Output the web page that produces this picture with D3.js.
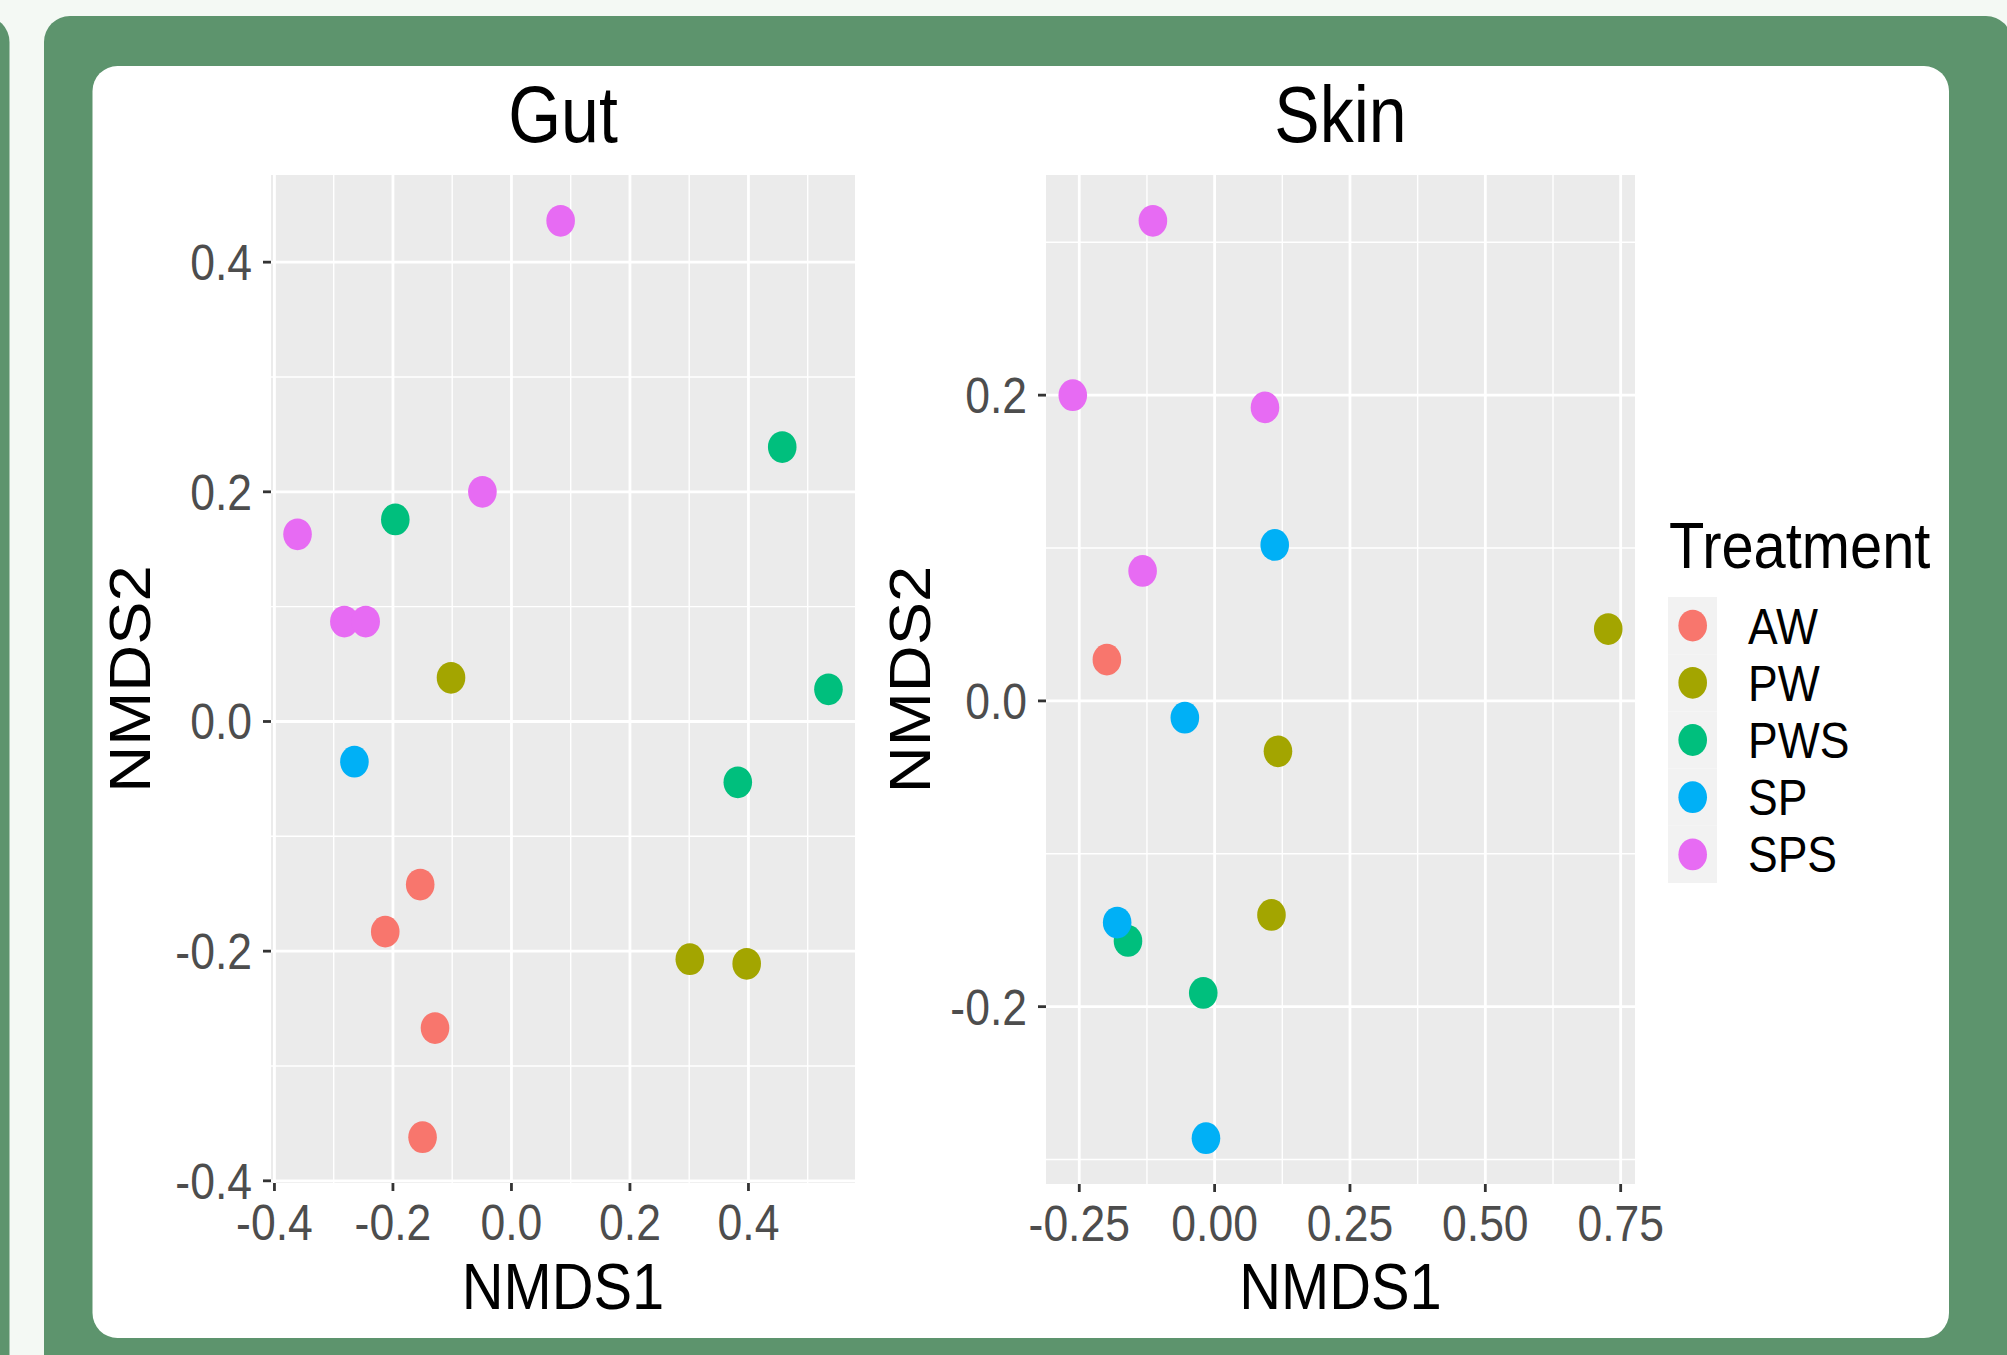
<!DOCTYPE html>
<html>
<head>
<meta charset="utf-8">
<script src="https://cdn.jsdelivr.net/npm/d3@7"></script>
<style>
  html, body { margin: 0; padding: 0; background: #f4f9f4; }
  svg { display: block; }
</style>
</head>
<body>
<script>
// ---------------- DATA ----------------
const treatments = ["AW", "PW", "PWS", "SP", "SPS"];
const treatmentColors = ["#F8766D", "#A3A500", "#00BF7D", "#00B0F6", "#E76BF3"];

// Gut NMDS scores
const gutTreatment = ["AW","AW","AW","AW","PW","PW","PW","PWS","PWS","PWS","PWS","SP","SPS","SPS","SPS","SPS","SPS"];
const gutNMDS1 = [-0.154, -0.213, -0.129, -0.150, -0.102, 0.301, 0.397, 0.457, -0.196, 0.535, 0.382, -0.265, 0.083, -0.049, -0.361, -0.282, -0.246];
const gutNMDS2 = [-0.142, -0.183, -0.267, -0.362, 0.038, -0.207, -0.211, 0.239, 0.176, 0.028, -0.053, -0.035, 0.436, 0.200, 0.163, 0.087, 0.087];

// Skin NMDS scores
const skinTreatment = ["AW","PW","PW","PW","PWS","PWS","SP","SP","SP","SP","SPS","SPS","SPS","SPS"];
const skinNMDS1 = [-0.199, 0.727, 0.117, 0.105, -0.160, -0.021, 0.111, -0.055, -0.180, -0.016, -0.114, -0.262, 0.093, -0.133];
const skinNMDS2 = [0.027, 0.047, -0.033, -0.140, -0.157, -0.191, 0.102, -0.011, -0.145, -0.286, 0.314, 0.200, 0.192, 0.085];

// Axis ticks
const gutXTicks = [-0.4, -0.2, 0.0, 0.2, 0.4];
const gutXTickLabels = ["-0.4", "-0.2", "0.0", "0.2", "0.4"];
const gutXMinor = [-0.3, -0.1, 0.1, 0.3, 0.5];
const gutYTicks = [-0.4, -0.2, 0.0, 0.2, 0.4];
const gutYTickLabels = ["-0.4", "-0.2", "0.0", "0.2", "0.4"];
const gutYMinor = [-0.3, -0.1, 0.1, 0.3];

const skinXTicks = [-0.25, 0.0, 0.25, 0.5, 0.75];
const skinXTickLabels = ["-0.25", "0.00", "0.25", "0.50", "0.75"];
const skinXMinor = [-0.125, 0.125, 0.375, 0.625];
const skinYTicks = [-0.2, 0.0, 0.2];
const skinYTickLabels = ["-0.2", "0.0", "0.2"];
const skinYMinor = [-0.3, -0.1, 0.1, 0.3];

const panelTitles = ["Gut", "Skin"];
const xAxisTitle = "NMDS1";
const yAxisTitle = "NMDS2";
const legendTitle = "Treatment";

// ---------------- LAYOUT ----------------
const W = 2007, H = 1355;
const FONT = "'Liberation Sans', Arial, Helvetica, sans-serif";
const SX = 0.89; // horizontal text compression seen in the reference

const svg = d3.select("body").append("svg")
  .attr("width", W).attr("height", H)
  .attr("viewBox", `0 0 ${W} ${H}`);

const green = "#5d946d";
svg.append("rect").attr("x", 0).attr("y", 0).attr("width", W).attr("height", H).attr("fill", "#f4f9f4");
svg.append("rect").attr("x", -200).attr("y", 16).attr("width", 209.5).attr("height", 2000).attr("rx", 26).attr("fill", green);
svg.append("rect").attr("x", 44).attr("y", 16).attr("width", 1968).attr("height", 2000).attr("rx", 26).attr("fill", green);
svg.append("rect").attr("x", 92.5).attr("y", 66).attr("width", 1856.5).attr("height", 1272).attr("rx", 25).attr("fill", "#ffffff");

const color = d3.scaleOrdinal().domain(treatments).range(treatmentColors);

function expandDomain(vals) {
  const [lo, hi] = d3.extent(vals);
  const pad = (hi - lo) * 0.05;
  return [lo - pad, hi + pad];
}

function textAt(g, x, y, str, size, fill, anchor, sx, rotate) {
  const t = g.append("text")
    .attr("transform", rotate
      ? `translate(${x},${y}) rotate(-90) scale(1,${sx})`
      : `translate(${x},${y}) scale(${sx},1)`)
    .attr("font-family", FONT)
    .attr("font-size", size)
    .attr("fill", fill)
    .attr("text-anchor", anchor)
    .text(str);
  return t;
}

const panels = [
  { title: panelTitles[0], x1: gutNMDS1, y1: gutNMDS2, trt: gutTreatment,
    left: 271, right: 855, top: 175, bottom: 1183,
    xTicks: gutXTicks, xLabels: gutXTickLabels, xMinor: gutXMinor,
    yTicks: gutYTicks, yLabels: gutYTickLabels, yMinor: gutYMinor,
    yTitleX: 150 },
  { title: panelTitles[1], x1: skinNMDS1, y1: skinNMDS2, trt: skinTreatment,
    left: 1046, right: 1635, top: 175, bottom: 1184,
    xTicks: skinXTicks, xLabels: skinXTickLabels, xMinor: skinXMinor,
    yTicks: skinYTicks, yLabels: skinYTickLabels, yMinor: skinYMinor,
    yTitleX: 930 }
];

panels.forEach(p => {
  const g = svg.append("g");
  const x = d3.scaleLinear().domain(expandDomain(p.x1)).range([p.left, p.right]);
  const y = d3.scaleLinear().domain(expandDomain(p.y1)).range([p.bottom, p.top]);

  // panel background
  g.append("rect").attr("x", p.left).attr("y", p.top)
    .attr("width", p.right - p.left).attr("height", p.bottom - p.top)
    .attr("fill", "#ebebeb");

  // minor grid
  g.selectAll(null).data(p.xMinor).enter().append("line")
    .attr("x1", d => x(d)).attr("x2", d => x(d)).attr("y1", p.top).attr("y2", p.bottom)
    .attr("stroke", "#ffffff").attr("stroke-width", 1.4);
  g.selectAll(null).data(p.yMinor).enter().append("line")
    .attr("y1", d => y(d)).attr("y2", d => y(d)).attr("x1", p.left).attr("x2", p.right)
    .attr("stroke", "#ffffff").attr("stroke-width", 1.4);
  // major grid
  g.selectAll(null).data(p.xTicks).enter().append("line")
    .attr("x1", d => x(d)).attr("x2", d => x(d)).attr("y1", p.top).attr("y2", p.bottom)
    .attr("stroke", "#ffffff").attr("stroke-width", 2.8);
  g.selectAll(null).data(p.yTicks).enter().append("line")
    .attr("y1", d => y(d)).attr("y2", d => y(d)).attr("x1", p.left).attr("x2", p.right)
    .attr("stroke", "#ffffff").attr("stroke-width", 2.8);

  // points
  const pts = p.x1.map((v, i) => ({ x: v, y: p.y1[i], t: p.trt[i] }));
  g.selectAll(null).data(pts).enter().append("ellipse")
    .attr("cx", d => x(d.x)).attr("cy", d => y(d.y))
    .attr("rx", 14.3).attr("ry", 15.9)
    .attr("fill", d => color(d.t));

  // x ticks + labels
  p.xTicks.forEach((d, i) => {
    g.append("line").attr("x1", x(d)).attr("x2", x(d))
      .attr("y1", p.bottom).attr("y2", p.bottom + 8)
      .attr("stroke", "#333333").attr("stroke-width", 2.8);
    textAt(g, x(d), p.bottom + 57, p.xLabels[i], 50, "#4d4d4d", "middle", SX, false);
  });
  // y ticks + labels
  p.yTicks.forEach((d, i) => {
    g.append("line").attr("y1", y(d)).attr("y2", y(d))
      .attr("x1", p.left - 8).attr("x2", p.left)
      .attr("stroke", "#333333").attr("stroke-width", 2.8);
    textAt(g, p.left - 19, y(d) + 18, p.yLabels[i], 50, "#4d4d4d", "end", SX, false);
  });

  const cx = (p.left + p.right) / 2;
  const cy = (p.top + p.bottom) / 2;
  textAt(g, cx, 1309, xAxisTitle, 65, "#000000", "middle", SX, false);
  textAt(g, p.yTitleX, cy, yAxisTitle, 65, "#000000", "middle", SX, true);
  textAt(g, cx, 142, p.title, 80, "#000000", "middle", 0.85, false);
});

// ---------------- LEGEND ----------------
const lg = svg.append("g");
textAt(lg, 1669, 568, legendTitle, 65, "#000000", "start", SX, false);
const keyTop = 597, keyH = 57.2;
treatments.forEach((t, i) => {
  const ky = keyTop + i * keyH;
  lg.append("rect").attr("x", 1668).attr("y", ky).attr("width", 49).attr("height", keyH)
    .attr("fill", "#f2f2f2");
});
treatments.forEach((t, i) => {
  const cyk = keyTop + i * keyH + keyH / 2;
  lg.append("ellipse").attr("cx", 1692.7).attr("cy", cyk).attr("rx", 14.3).attr("ry", 15.9)
    .attr("fill", color(t));
  textAt(lg, 1748, cyk + 18, t, 50, "#000000", "start", SX, false);
});
</script>
</body>
</html>
